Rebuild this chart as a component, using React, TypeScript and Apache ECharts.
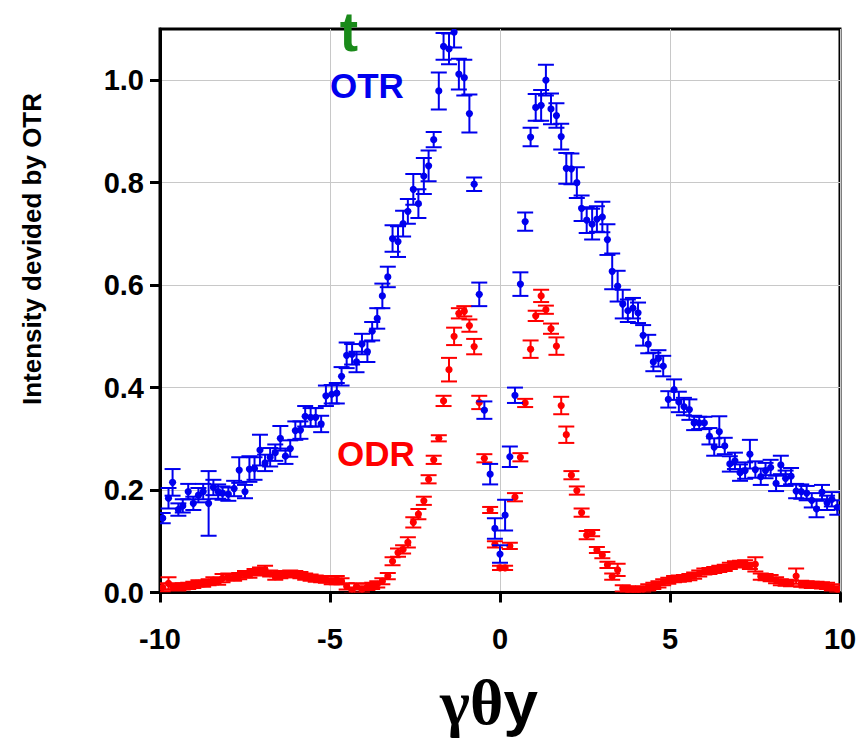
import React, { useEffect, useRef } from "react";
import * as echarts from "echarts";

// angle positions (gamma*theta_y)
const xs = [
  -9.92, -9.75, -9.63, -9.46, -9.33, -9.17, -9.02, -8.87, -8.73, -8.57,
  -8.43, -8.29, -8.16, -7.99, -7.82, -7.67, -7.5, -7.37, -7.22, -7.06,
  -6.91, -6.76, -6.61, -6.46, -6.31, -6.17, -6.02, -5.87, -5.73, -5.57,
  -5.42, -5.26, -5.12, -4.95, -4.8, -4.66, -4.51, -4.35, -4.22, -4.06,
  -3.9, -3.76, -3.61, -3.46, -3.3, -3.16, -3.0, -2.85, -2.71, -2.55,
  -2.4, -2.24, -2.1, -1.95, -1.8, -1.66, -1.5, -1.35, -1.21, -1.05,
  -0.9, -0.76, -0.61, -0.46, -0.29, -0.15, 0.0,
  0.15, 0.29, 0.44, 0.6, 0.74, 0.9, 1.05, 1.21, 1.35, 1.5,
  1.66, 1.8, 1.95, 2.1, 2.26, 2.4, 2.55, 2.71, 2.85, 3.01,
  3.16, 3.3, 3.46, 3.61, 3.76, 3.91, 4.06, 4.21, 4.36, 4.51,
  4.66, 4.8, 4.95, 5.12, 5.26, 5.41, 5.57, 5.71, 5.86, 6.01,
  6.16, 6.3, 6.45, 6.61, 6.76, 6.91, 7.06, 7.21, 7.35, 7.51,
  7.67, 7.81, 7.96, 8.12, 8.26, 8.4, 8.56, 8.71, 8.86, 9.02,
  9.17, 9.31, 9.47, 9.62, 9.76, 9.92,
];

const otrY = [
  0.145, 0.184, 0.215, 0.162, 0.169, 0.197, 0.174, 0.19, 0.197, 0.174,
  0.205, 0.197, 0.194, 0.192, 0.203, 0.239, 0.197, 0.241, 0.242, 0.278,
  0.253, 0.264, 0.273, 0.301, 0.266, 0.281, 0.316, 0.317, 0.344, 0.342,
  0.342, 0.329, 0.384, 0.387, 0.389, 0.422, 0.463, 0.465, 0.45, 0.485,
  0.47, 0.51, 0.535, 0.579, 0.616, 0.691, 0.685, 0.72, 0.744, 0.787,
  0.759, 0.813, 0.833, 0.884, 0.979, 1.066, 1.061, 1.094, 1.012, 1.005,
  0.935, 0.797, 0.582, 0.356, 0.231, 0.125, 0.075,
  0.151, 0.265, 0.385, 0.602, 0.724, 0.889, 0.947, 0.951, 1.0, 0.944,
  0.931, 0.89, 0.828, 0.827, 0.8, 0.75, 0.727, 0.719, 0.729, 0.733,
  0.689, 0.627, 0.598, 0.563, 0.55, 0.555, 0.546, 0.502, 0.485, 0.45,
  0.457, 0.442, 0.377, 0.396, 0.372, 0.363, 0.357, 0.331, 0.331, 0.331,
  0.305, 0.284, 0.314, 0.286, 0.251, 0.257, 0.234, 0.238, 0.27, 0.24,
  0.226, 0.238, 0.244, 0.213, 0.249, 0.223, 0.227, 0.198, 0.197, 0.194,
  0.18, 0.163, 0.196, 0.175, 0.182, 0.166,
];

const otrErr = [
  0.01, 0.02, 0.026, 0.012, 0.013, 0.015, 0.013, 0.014, 0.015, 0.063,
  0.015, 0.014, 0.013, 0.013, 0.015, 0.025, 0.013, 0.025, 0.022, 0.03,
  0.016, 0.018, 0.016, 0.024, 0.015, 0.016, 0.018, 0.017, 0.02, 0.018,
  0.018, 0.016, 0.02, 0.018, 0.02, 0.018, 0.025, 0.02, 0.02, 0.02,
  0.02, 0.018, 0.02, 0.024, 0.02, 0.026, 0.03, 0.025, 0.024, 0.03,
  0.028, 0.035, 0.03, 0.015, 0.036, 0.026, 0.03, 0.03, 0.03, 0.035,
  0.037, 0.013, 0.023, 0.017, 0.02, 0.02, 0.017,
  0.03, 0.02, 0.015, 0.023, 0.018, 0.018, 0.026, 0.03, 0.03, 0.03,
  0.024, 0.025, 0.03, 0.03, 0.03, 0.025, 0.025, 0.03, 0.025, 0.03,
  0.03, 0.035, 0.03, 0.028, 0.022, 0.02, 0.02, 0.02, 0.018, 0.018,
  0.016, 0.02, 0.016, 0.02, 0.02, 0.017, 0.02, 0.014, 0.012, 0.012,
  0.016, 0.017, 0.03, 0.016, 0.015, 0.016, 0.016, 0.016, 0.028, 0.016,
  0.016, 0.015, 0.015, 0.015, 0.018, 0.015, 0.016, 0.014, 0.014, 0.014,
  0.014, 0.016, 0.014, 0.014, 0.014, 0.014,
];

const odrY = [
  0.01, 0.018, 0.012, 0.01, 0.012, 0.013, 0.015, 0.018, 0.017, 0.02,
  0.024, 0.021, 0.028, 0.031, 0.029, 0.032, 0.036, 0.035, 0.04, 0.041,
  0.044, 0.037, 0.031, 0.034, 0.036, 0.037, 0.036, 0.034, 0.031, 0.029,
  0.027, 0.026, 0.025, 0.022, 0.024, 0.022, 0.012, 0.004, 0.012, 0.006,
  0.011, 0.013, 0.016, 0.022, 0.032, 0.061, 0.078, 0.084, 0.098, 0.137,
  0.153, 0.179, 0.221, 0.259, 0.301, 0.374, 0.435, 0.5, 0.545, 0.549,
  0.521, 0.48, 0.371, 0.262, 0.161, 0.094, 0.048,
  0.048, 0.091, 0.186, 0.264, 0.37, 0.475, 0.54, 0.579, 0.552, 0.515,
  0.481, 0.365, 0.308, 0.229, 0.199, 0.156, 0.112, 0.116, 0.083, 0.073,
  0.054, 0.031, 0.044, 0.008, 0.006, 0.005, 0.003, 0.006, 0.01, 0.013,
  0.016, 0.02, 0.023, 0.026, 0.027, 0.028, 0.03, 0.033, 0.037, 0.041,
  0.042, 0.044, 0.046, 0.048, 0.052, 0.055, 0.056, 0.057, 0.052, 0.055,
  0.031, 0.03, 0.028, 0.024, 0.02, 0.019, 0.018, 0.032, 0.017, 0.016,
  0.015, 0.015, 0.014, 0.013, 0.01, 0.006,
];

const odrErr = [
  0.008, 0.012, 0.006, 0.006, 0.006, 0.006, 0.006, 0.006, 0.006, 0.006,
  0.006, 0.006, 0.008, 0.006, 0.006, 0.006, 0.006, 0.006, 0.006, 0.008,
  0.008, 0.006, 0.006, 0.006, 0.006, 0.006, 0.006, 0.006, 0.006, 0.006,
  0.006, 0.006, 0.006, 0.006, 0.008, 0.006, 0.006, 0.006, 0.006, 0.006,
  0.006, 0.006, 0.006, 0.006, 0.006, 0.008, 0.008, 0.008, 0.01, 0.01,
  0.01, 0.008, 0.008, 0.008, 0.006, 0.01, 0.023, 0.017, 0.01, 0.01,
  0.012, 0.015, 0.013, 0.008, 0.006, 0.006, 0.004,
  0.004, 0.006, 0.008, 0.008, 0.008, 0.017, 0.01, 0.012, 0.008, 0.01,
  0.017, 0.017, 0.016, 0.008, 0.008, 0.008, 0.008, 0.006, 0.006, 0.006,
  0.006, 0.006, 0.012, 0.006, 0.006, 0.006, 0.006, 0.006, 0.006, 0.006,
  0.006, 0.006, 0.006, 0.006, 0.006, 0.006, 0.006, 0.006, 0.006, 0.006,
  0.006, 0.006, 0.006, 0.006, 0.006, 0.006, 0.006, 0.006, 0.006, 0.014,
  0.006, 0.006, 0.006, 0.006, 0.006, 0.006, 0.006, 0.015, 0.006, 0.006,
  0.006, 0.006, 0.006, 0.006, 0.006, 0.006,
];

const xTicks = [-10, -5, 0, 5, 10];
const yTicks = [0, 0.2, 0.4, 0.6, 0.8, 1.0];

const BLUE = "#0000ee";
const RED = "#ff0000";
const FONT = "'Liberation Sans', Arial, sans-serif";

function errorSeries(name: string, ys: number[], errs: number[], color: string) {
  const data = xs.map((x, i) => [x, ys[i], errs[i]]);
  return {
    type: "custom",
    name,
    clip: true,
    data,
    encode: { x: 0, y: 1 },
    renderItem: (params: any, api: any) => {
      const x = api.value(0);
      const y = api.value(1);
      const e = api.value(2);
      const c = api.coord([x, y]);
      const t = api.coord([x, y + e]);
      const b = api.coord([x, y - e]);
      const hw = 8;
      const st = { stroke: color, lineWidth: 2 };
      return {
        type: "group",
        children: [
          { type: "line", shape: { x1: t[0], y1: t[1], x2: b[0], y2: b[1] }, style: st },
          { type: "line", shape: { x1: t[0] - hw, y1: t[1], x2: t[0] + hw, y2: t[1] }, style: st },
          { type: "line", shape: { x1: b[0] - hw, y1: b[1], x2: b[0] + hw, y2: b[1] }, style: st },
          { type: "circle", shape: { cx: c[0], cy: c[1], r: 3.6 }, style: { fill: color } },
        ],
      };
    },
  };
}

export default function App() {
  const ref = useRef<HTMLDivElement>(null);
  useEffect(() => {
    if (!ref.current) return;
    const chart = echarts.init(ref.current, null, { renderer: "svg" });
    chart.setOption({
      animation: false,
      backgroundColor: "#ffffff",
      grid: {
        left: 160,
        top: 29,
        width: 680,
        height: 563.5,
        show: true,
        borderColor: "#000",
        borderWidth: 3,
        backgroundColor: "transparent",
      },
      xAxis: {
        type: "value",
        min: -10,
        max: 10,
        interval: 5,
        axisLine: { onZero: false, lineStyle: { color: "#000", width: 3 } },
        axisTick: { show: true, inside: false, length: 10, lineStyle: { color: "#000", width: 3 }, customValues: xTicks },
        axisLabel: {
          color: "#000",
          fontSize: 29,
          fontWeight: "bold",
          fontFamily: FONT,
          margin: 32,
          customValues: xTicks,
        },
        splitLine: { show: true, lineStyle: { color: "#c8c8c8", width: 1 } },
      },
      yAxis: {
        type: "value",
        min: 0,
        max: 1.1,
        interval: 0.2,
        axisLine: { onZero: false, lineStyle: { color: "#000", width: 3 } },
        axisTick: { show: true, inside: false, length: 10, lineStyle: { color: "#000", width: 3 }, customValues: yTicks },
        axisLabel: {
          color: "#000",
          fontSize: 29,
          fontWeight: "bold",
          fontFamily: FONT,
          margin: 16,
          customValues: yTicks,
          formatter: (v: number) => v.toFixed(1),
        },
        splitLine: { show: true, lineStyle: { color: "#c8c8c8", width: 1 } },
      },
      graphic: [
        {
          type: "text",
          x: 32,
          y: 249,
          rotation: Math.PI / 2,
          style: {
            text: "Intensity devided by OTR",
            fill: "#000",
            font: `bold 26px ${FONT}`,
            align: "center",
            verticalAlign: "middle",
          },
        },
        {
          type: "text",
          x: 489,
          y: 702,
          style: {
            text: "{a|γθ}{b|y}",
            align: "center",
            verticalAlign: "middle",
            rich: {
              a: {
                fontFamily: "'Liberation Serif', 'DejaVu Serif', serif",
                fontWeight: "bold",
                fontSize: 64,
                lineHeight: 64,
                fill: "#000",
              },
              b: { fontFamily: FONT, fontWeight: "bold", fontSize: 62, lineHeight: 64, fill: "#000" },
            },
          },
        },
        {
          type: "text",
          x: 349,
          y: 31.5,
          z: 100,
          style: {
            text: "t",
            fill: "#1a8a1a",
            font: `bold 55px ${FONT}`,
            align: "center",
            verticalAlign: "middle",
          },
        },
        {
          type: "text",
          x: 330,
          y: 85,
          z: 100,
          style: {
            text: "OTR",
            fill: BLUE,
            font: `bold 35px ${FONT}`,
            align: "left",
            verticalAlign: "middle",
          },
        },
        {
          type: "text",
          x: 337,
          y: 453,
          z: 100,
          style: {
            text: "ODR",
            fill: RED,
            font: `bold 35px ${FONT}`,
            align: "left",
            verticalAlign: "middle",
          },
        },
      ],
      series: [errorSeries("ODR", odrY, odrErr, RED), errorSeries("OTR", otrY, otrErr, BLUE)],
    });
    return () => chart.dispose();
  }, []);
  return (
    <div
      ref={ref}
      style={{ position: "fixed", left: 0, top: 0, width: 863, height: 740, background: "#fff" }}
    />
  );
}
